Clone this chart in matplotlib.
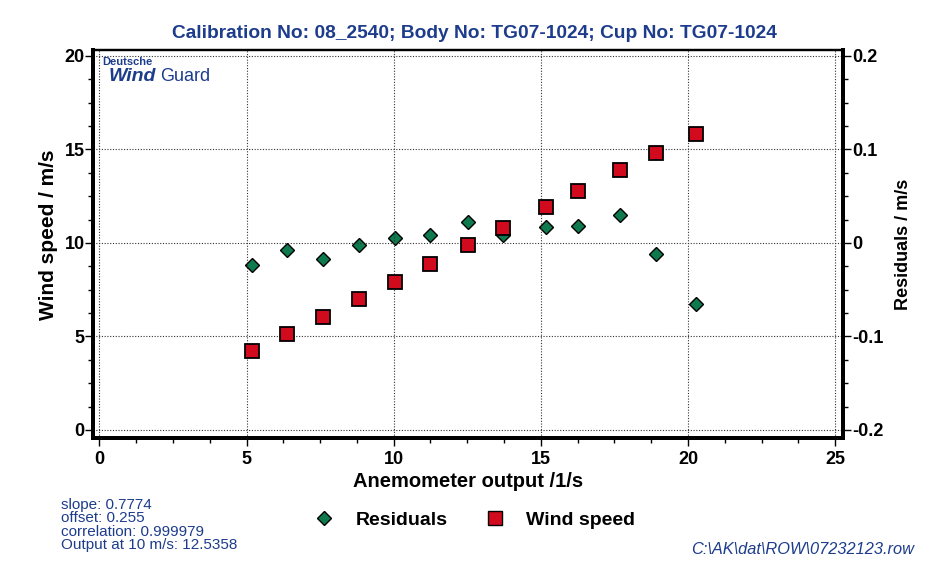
import matplotlib.pyplot as plt
from matplotlib.ticker import MultipleLocator
from matplotlib.lines import Line2D

plt.rcParams['font.family'] = ['Liberation Sans', 'DejaVu Sans']

# anemometer output (1/s), reference wind speed (m/s), residuals (m/s)
output = [5.18, 6.38, 7.59, 8.82, 10.05, 11.23, 12.52, 13.71, 15.16, 16.27, 17.69, 18.92, 20.29]
wind_speed = [4.20, 5.15, 6.02, 6.99, 7.93, 8.87, 9.90, 10.81, 11.93, 12.79, 13.90, 14.80, 15.84]
residuals = [-0.024, -0.008, -0.017, -0.002, 0.005, 0.009, 0.022, 0.009, 0.017, 0.018, 0.030, -0.012, -0.065]

stats = ['slope: 0.7774', 'offset: 0.255', 'correlation: 0.999979', 'Output at 10 m/s: 12.5358']
title = 'Calibration No: 08_2540; Body No: TG07-1024; Cup No: TG07-1024'
file_name = 'C:\\AK\\dat\\ROW\\07232123.row'

blue = '#1d3c8c'
red = '#d20a1e'
green = '#0e7a4e'

fig = plt.figure(figsize=(9.31, 5.69), dpi=100)
ax = fig.add_axes([0.0999, 0.2302, 0.8056, 0.6819])
ax2 = ax.twinx()

ax.set_xlim(-0.22, 25.27)
ax.set_ylim(-0.43, 20.32)
ax2.set_ylim(-0.2086, 0.2064)

ax.grid(True, color='#333333', linestyle=(0, (1, 1.5)), linewidth=0.8)
ax.set_axisbelow(True)

ax2.plot(output, residuals, linestyle='none', marker='D', markersize=7.5,
         markerfacecolor=green, markeredgecolor='black', markeredgewidth=1.0, zorder=3)
ax.plot(output, wind_speed, linestyle='none', marker='s', markersize=10,
        markerfacecolor=red, markeredgecolor='black', markeredgewidth=1.3, zorder=4)
ax.set_zorder(ax2.get_zorder() + 1)
ax.patch.set_visible(False)

ax.xaxis.set_major_locator(MultipleLocator(5))
ax.xaxis.set_minor_locator(MultipleLocator(1.25))
ax.yaxis.set_major_locator(MultipleLocator(5))
ax.yaxis.set_minor_locator(MultipleLocator(1.25))
ax2.yaxis.set_major_locator(MultipleLocator(0.1))
ax2.yaxis.set_minor_locator(MultipleLocator(0.025))
ax2.yaxis.set_major_formatter(lambda v, p: '0' if abs(v) < 1e-9 else f'{v:.1f}')

for a in (ax, ax2):
    a.tick_params(which='major', length=5.5, width=1, labelsize=13, direction='out', pad=0.5)
    a.tick_params(which='minor', length=3.5, width=1, direction='out')
    for lab in a.get_xticklabels() + a.get_yticklabels():
        lab.set_fontweight('bold')
ax.tick_params(axis='x', pad=3.5)
ax2.tick_params(axis='y', pad=1.5)

for a in (ax, ax2):
    a.spines['left'].set_linewidth(2.8)
    a.spines['bottom'].set_linewidth(2.8)
    a.spines['right'].set_linewidth(2.8)
    a.spines['top'].set_linewidth(1.6)

ax.set_xlabel('Anemometer output /1/s', fontsize=14.5, fontweight='bold', labelpad=3)
ax.set_ylabel('Wind speed / m/s', fontsize=15, fontweight='bold')
ax.yaxis.set_label_coords(-0.047, 0.523)
ax2.set_ylabel('Residuals / m/s', fontsize=13, fontweight='bold', labelpad=8)

fig.text(0.51, 0.942, title, ha='center', va='center', color=blue,
         fontsize=13.8, fontweight='bold')

# company logo in the upper left of the plot area
ax.text(0.012, 0.969, 'Deutsche', transform=ax.transAxes, color=blue,
        fontsize=8, fontweight='bold', va='center', ha='left')
ax.text(0.021, 0.933, 'Wind', transform=ax.transAxes, color=blue,
        fontsize=14, fontweight='bold', style='italic', va='center', ha='left')
ax.text(0.089, 0.933, 'Guard', transform=ax.transAxes, color=blue,
        fontsize=13, va='center', ha='left')

fig.text(0.065, 0.125, '\n'.join(stats), color=blue, fontsize=11,
         va='top', ha='left', linespacing=0.95)
fig.text(0.982, 0.0334, file_name, color=blue, fontsize=11.8, style='italic',
         ha='right', va='center')

handles = [
    Line2D([], [], linestyle='none', marker='D', markersize=7.5, markerfacecolor=green,
           markeredgecolor='black', markeredgewidth=1.0),
    Line2D([], [], linestyle='none', marker='s', markersize=10, markerfacecolor=red,
           markeredgecolor='black', markeredgewidth=1.0),
]
fig.legend(handles, ['Residuals', 'Wind speed'], loc='center', bbox_to_anchor=(0.51, 0.086),
           ncol=2, frameon=False, prop={'weight': 'bold', 'size': 14},
           handletextpad=1.1, columnspacing=1.93, handlelength=1.0)

fig.savefig('out.png', dpi=100)
